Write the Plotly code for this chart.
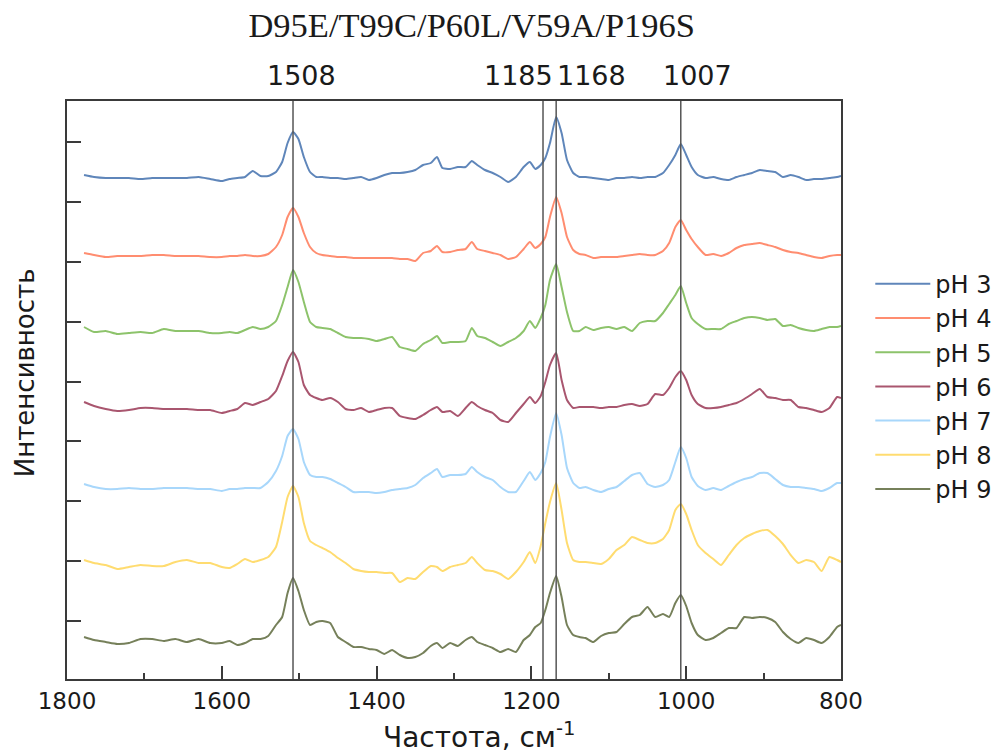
import plotly.graph_objects as go

# Raman shift grid, cm^-1
freq = [1778, 1765, 1750, 1735, 1720, 1705, 1690, 1675, 1660, 1645,
        1630, 1615, 1600, 1590, 1580, 1570, 1560, 1550, 1540, 1530,
        1522, 1515, 1508, 1501, 1494, 1486, 1478, 1470, 1460, 1450,
        1440, 1430, 1420, 1410, 1400, 1390, 1380, 1370, 1360, 1350,
        1340, 1330, 1322, 1315, 1305, 1295, 1285, 1277, 1270, 1260,
        1250, 1240, 1230, 1220, 1210, 1202, 1195, 1188, 1182, 1176,
        1168, 1161, 1154, 1146, 1138, 1130, 1120, 1110, 1100, 1090,
        1080, 1070, 1060, 1050, 1040, 1030, 1022, 1014, 1007, 1000,
        993, 985, 975, 965, 955, 945, 935, 925, 915, 905,
        895, 885, 875, 865, 855, 845, 835, 825, 815, 805,
        800]

# Stacked intensities (arbitrary units, offset spectra)
ph3 = [505, 503, 502, 502, 502, 501, 502, 502, 502, 502,
       503, 501, 499, 501, 502, 503, 509, 504, 504, 508,
       518, 537, 548, 541, 523, 508, 503, 503, 502, 502,
       501, 502, 503, 500, 502, 505, 507, 507, 508, 510,
       515, 517, 523, 512, 511, 513, 513, 519, 515, 510,
       507, 503, 498, 503, 513, 518, 511, 515, 522, 537,
       563, 547, 520, 507, 503, 503, 502, 501, 500, 502,
       502, 503, 502, 503, 503, 507, 515, 525, 536, 525,
       513, 505, 502, 503, 501, 500, 503, 505, 507, 510,
       509, 508, 503, 505, 503, 500, 501, 501, 502, 503,
       504]
ph4 = [427, 425, 423, 424, 424, 424, 425, 425, 424, 424,
       424, 423, 423, 424, 424, 425, 424, 424, 426, 433,
       445, 463, 472, 463, 447, 433, 427, 425, 424, 423,
       423, 422, 422, 422, 422, 422, 422, 421, 421, 419,
       427, 429, 434, 428, 428, 430, 431, 438, 431, 429,
       427, 425, 421, 423, 431, 438, 432, 436, 443, 463,
       483, 467, 443, 430, 426, 425, 422, 423, 423, 423,
       424, 425, 426, 425, 425, 429, 437, 453, 460, 450,
       441, 433, 425, 426, 424, 427, 432, 435, 436, 437,
       435, 433, 430, 428, 427, 425, 423, 422, 424, 425,
       425]
ph5 = [353, 348, 349, 346, 347, 348, 347, 351, 349, 349,
       349, 347, 347, 348, 347, 350, 353, 351, 353, 359,
       375, 393, 410, 398, 378, 358, 353, 352, 351, 347,
       343, 342, 342, 341, 339, 341, 343, 333, 331, 329,
       336, 340, 344, 337, 338, 338, 339, 352, 344, 342,
       338, 334, 338, 342, 349, 359, 352, 362, 375, 400,
       416, 393, 368, 349, 349, 353, 350, 352, 353, 351,
       353, 349, 357, 359, 359, 367, 376, 385, 394, 377,
       362, 356, 351, 351, 351, 356, 359, 362, 363, 362,
       360, 361, 354, 355, 352, 350, 349, 351, 353, 353,
       354]
ph6 = [278, 274, 271, 269, 270, 272, 272, 271, 271, 271,
       270, 270, 267, 269, 271, 277, 275, 278, 281, 289,
       304, 319, 328, 318, 295, 285, 282, 280, 282, 278,
       271, 270, 272, 268, 270, 272, 272, 264, 262, 261,
       265, 270, 273, 268, 269, 264, 272, 278, 274, 270,
       267, 260, 258, 267, 276, 283, 277, 284, 298, 315,
       327, 300, 280, 272, 273, 273, 273, 272, 273, 273,
       275, 276, 274, 276, 286, 285, 292, 303, 309, 300,
       285, 276, 272, 272, 273, 275, 277, 281, 286, 291,
       283, 282, 280, 280, 273, 272, 270, 268, 272, 283,
       282]
ph7 = [196, 193, 191, 191, 192, 191, 191, 192, 192, 192,
       191, 191, 189, 191, 191, 192, 192, 192, 198, 209,
       224, 244, 251, 241, 218, 205, 203, 203, 201, 197,
       193, 188, 188, 188, 187, 188, 190, 191, 192, 195,
       202, 207, 211, 203, 205, 205, 206, 213, 208, 203,
       200, 193, 188, 188, 199, 208, 200, 207, 218, 243,
       267, 245, 212, 197, 192, 193, 190, 188, 191, 193,
       199, 205, 207, 196, 193, 195, 200, 218, 233, 222,
       203, 194, 190, 192, 190, 194, 198, 201, 203, 207,
       207, 201, 195, 193, 193, 192, 191, 189, 192, 197,
       197]
ph8 = [120, 117, 115, 111, 113, 115, 114, 114, 118, 120,
       117, 117, 113, 112, 116, 121, 118, 120, 123, 133,
       158, 183, 194, 183, 157, 139, 135, 132, 128, 122,
       117, 111, 109, 108, 108, 107, 107, 98, 102, 101,
       108, 114, 113, 109, 113, 115, 117, 123, 117, 110,
       109, 106, 101, 108, 118, 128, 117, 134, 157, 178,
       197, 170, 137, 120, 118, 118, 117, 116, 121, 130,
       135, 143, 140, 137, 137, 141, 150, 170, 176, 166,
       150, 135, 127, 121, 115, 125, 135, 142, 146, 149,
       150, 144, 136, 125, 117, 120, 118, 109, 123, 120,
       118]
ph9 = [43, 40, 38, 36, 37, 41, 41, 39, 41, 38,
       41, 37, 37, 39, 35, 37, 41, 41, 44, 55,
       63, 87, 102, 89, 70, 55, 58, 59, 57, 43,
       38, 33, 33, 31, 30, 26, 30, 25, 22, 23,
       27, 34, 37, 32, 37, 34, 40, 43, 38, 35,
       32, 28, 31, 28, 40, 45, 53, 57, 70, 87,
       104, 83, 55, 45, 43, 42, 38, 44, 47, 48,
       56, 63, 65, 73, 63, 66, 63, 77, 85, 74,
       57, 45, 40, 42, 47, 52, 52, 63, 62, 63,
       62, 58, 48, 41, 37, 42, 40, 37, 43, 53,
       55]

series_names = ["pH 3", "pH 4", "pH 5", "pH 6", "pH 7", "pH 8", "pH 9"]
series_values = [ph3, ph4, ph5, ph6, ph7, ph8, ph9]
colors = ["#5f86ba", "#ff8d70", "#8dc36b", "#a9566f", "#a8d7fb", "#ffdc70", "#76805a"]

peaks = [1508, 1185, 1168, 1007]
peak_labels = ["1508", "1185", "1168", "1007"]
peak_label_shift = [8, -25, 35, 17]

y_ticks = [59, 119, 179, 239, 298, 358, 418, 478, 538]

font = "DejaVu Sans"
axis_col = "#3a3a3a"
text_col = "#1a1a1a"

fig = go.Figure()
for name, vals, col in zip(series_names, series_values, colors):
    fig.add_trace(go.Scatter(x=freq, y=vals, mode="lines", name=name,
                             legendgroup=name,
                             line=dict(color=col, width=2, shape="spline", smoothing=0.5)))

for p in peaks:
    fig.add_vline(x=p, line=dict(color="#555555", width=1.5))

for p, lab, sh in zip(peaks, peak_labels, peak_label_shift):
    fig.add_annotation(x=p, y=1, xref="x", yref="paper", text=lab,
                       showarrow=False, xshift=sh, yshift=26, yanchor="middle",
                       font=dict(family=font, size=27, color=text_col))

# axis titles
fig.add_annotation(x=0.533, y=0, xref="paper", yref="paper",
                   text="Частота, см<sup>-1</sup>", showarrow=False,
                   yshift=-56, yanchor="middle",
                   font=dict(family=font, size=28, color=text_col))
fig.add_annotation(x=0, y=0.529, xref="paper", yref="paper",
                   text="Интенсивность", showarrow=False, textangle=-90,
                   xshift=-42, xanchor="center", yanchor="middle",
                   font=dict(family=font, size=26, color=text_col))

fig.update_layout(
    width=1008, height=755,
    margin=dict(l=67, r=166, t=101, b=76),
    paper_bgcolor="white", plot_bgcolor="white",
    title=dict(text="D95E/T99C/P60L/V59A/P196S", x=0.468, xanchor="center",
               y=0.967, yanchor="middle",
               font=dict(family="Liberation Serif", size=34.5, color=text_col)),
    showlegend=True,
    legend=dict(x=1.0365, xanchor="left", y=0.722, yanchor="top",
                font=dict(family=font, size=24, color=text_col),
                tracegroupgap=0, itemwidth=55, bgcolor="rgba(0,0,0,0)"),
)

fig.update_xaxes(range=[1800, 800], tickvals=[1800, 1600, 1400, 1200, 1000, 800],
                 ticks="inside", ticklen=13, tickwidth=2, tickcolor=axis_col,
                 minor=dict(tickvals=[1700, 1500, 1300, 1100, 900], ticks="inside",
                            ticklen=6, tickwidth=2, tickcolor=axis_col),
                 showline=True, linewidth=2, linecolor=axis_col, mirror=True,
                 showgrid=False, zeroline=False,
                 tickfont=dict(family=font, size=23, color=text_col))
fig.update_yaxes(range=[1, 579], tickvals=y_ticks, showticklabels=False,
                 ticks="inside", ticklen=14, tickwidth=2, tickcolor=axis_col,
                 showline=True, linewidth=2, linecolor=axis_col, mirror=True,
                 showgrid=False, zeroline=False)

fig.write_html("out.html")
